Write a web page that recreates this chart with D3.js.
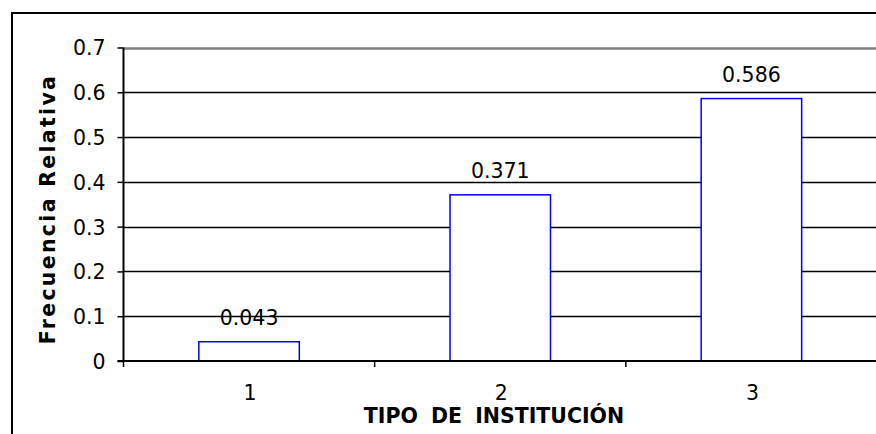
<!DOCTYPE html>
<html><head><meta charset="utf-8">
<script src="https://cdn.jsdelivr.net/npm/d3@7/dist/d3.min.js"></script>
<style>body{margin:0;background:#fff;}svg{display:block;}</style>
</head><body>
<script>
const categories = ["1", "2", "3"];
const values = [0.043, 0.371, 0.586];
const valueLabels = ["0.043", "0.371", "0.586"];
const yTicks = [0, 0.1, 0.2, 0.3, 0.4, 0.5, 0.6, 0.7];
const xTitle = "TIPO DE INSTITUCIÓN";
const yTitle = "Frecuencia Relativa";

(function () {
const W = 876, H = 434;
const svg = d3.select("body").append("svg").attr("width", W).attr("height", H);
const font = "'DejaVu Sans', Verdana, sans-serif";
const fs = 20.5;

// outer frame (extends beyond canvas)
svg.append("rect").attr("x", 12).attr("y", 13).attr("width", W + 20).attr("height", H + 20)
  .attr("fill", "none").attr("stroke", "#000").attr("stroke-width", 2);

const pL = 123.5, pR = 877, pT = 47.5, pB = 361;
const x = d3.scaleBand().domain(categories).range([pL, pR]).padding(0);
const y = d3.scaleLinear().domain([0, 0.7]).range([pB, pT]);

// gridlines
svg.append("g").selectAll("line").data(yTicks.filter(d => d > 0)).join("line")
  .attr("x1", pL).attr("x2", W).attr("y1", d => Math.round(y(d)) + 0.5).attr("y2", d => Math.round(y(d)) + 0.5)
  .attr("stroke", d => d === 0.7 ? "#808080" : "#000")
  .attr("stroke-width", d => d === 0.7 ? 2.5 : 1.5);

// bars
const bw = x.bandwidth() * 0.4;
svg.append("g").selectAll("rect").data(values).join("rect")
  .attr("x", (d, i) => x(categories[i]) + x.bandwidth() / 2 - bw / 2)
  .attr("y", d => y(d))
  .attr("width", bw)
  .attr("height", d => y(0) - y(d))
  .attr("fill", "#fff").attr("stroke", "#0000ff").attr("stroke-width", 1.5);

// value labels
svg.append("g").selectAll("text").data(values).join("text")
  .attr("x", (d, i) => x(categories[i]) + x.bandwidth() / 2)
  .attr("y", d => y(d) - 17)
  .attr("text-anchor", "middle")
  .attr("font-family", font).attr("font-size", fs).attr("fill", "#000")
  .text((d, i) => valueLabels[i]);

// y axis
const yAxis = d3.axisLeft(y).tickValues(yTicks).tickSize(6).tickFormat(d => d === 0 ? "0" : d3.format(".1f")(d));
const gy = svg.append("g").attr("transform", `translate(${pL},0)`).call(yAxis);
gy.select(".domain").attr("stroke", "#000").attr("stroke-width", 2).attr("d", `M0,${pT}V${pB}`);
gy.selectAll(".tick line").attr("stroke", "#000").attr("stroke-width", 1.5);
gy.selectAll(".tick text").attr("font-family", font).attr("font-size", fs).attr("fill", "#000").attr("x", -18).attr("dy", "0.36em");

// x axis
const gx = svg.append("g").attr("transform", `translate(0,${pB})`);
gx.append("line").attr("x1", pL - 6).attr("x2", W).attr("y1", 0).attr("y2", 0).attr("stroke", "#000").attr("stroke-width", 2);
gx.selectAll("line.tk").data(categories).join("line").attr("class", "tk")
  .attr("x1", d => x(d)).attr("x2", d => x(d)).attr("y1", 0).attr("y2", 6)
  .attr("stroke", "#000").attr("stroke-width", 1.5);
gx.selectAll("text").data(categories).join("text")
  .attr("x", d => x(d) + x.bandwidth() / 2 + 1)
  .attr("y", 38.5)
  .attr("text-anchor", "middle")
  .attr("font-family", font).attr("font-size", fs).attr("fill", "#000")
  .text(d => d);

// axis titles
svg.append("text").attr("x", 494).attr("y", 422.5).attr("text-anchor", "middle")
  .attr("font-family", font).attr("font-size", fs).attr("font-weight", "bold").attr("fill", "#000")
  .attr("word-spacing", 6)
  .text(xTitle);
svg.append("text").attr("transform", "translate(55,209) rotate(-90)").attr("text-anchor", "middle")
  .attr("font-family", font).attr("font-size", fs).attr("font-weight", "bold").attr("fill", "#000")
  .attr("letter-spacing", 2.3)
  .text(yTitle);
})();
</script>
</body></html>
